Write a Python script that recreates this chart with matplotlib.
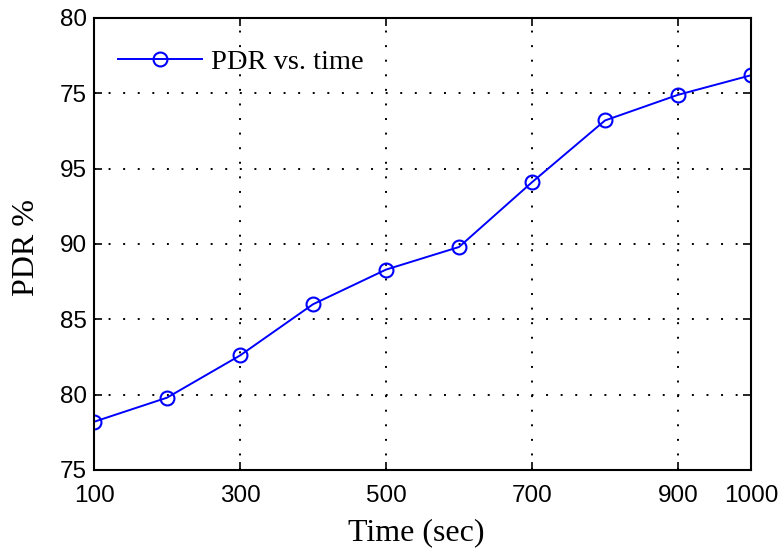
import matplotlib
matplotlib.use("Agg")
import matplotlib.pyplot as plt

time_sec = [100, 200, 300, 400, 500, 600, 700, 800, 900, 1000]
pdr_values = [78.2, 79.8, 82.6, 86.0, 88.3, 89.8, 94.1, 98.2, 99.9, 101.2]
x_ticks = [100, 300, 500, 700, 900, 1000]
x_tick_labels = ["100", "300", "500", "700", "900", "1000"]
y_ticks = [75, 80, 85, 90, 95, 100, 105]
y_tick_labels = ["75", "80", "85", "90", "95", "75", "80"]
series_label = "PDR vs. time"

W, H = 781, 550
L, R, T, B = 94, 751, 18, 470
fig = plt.figure(figsize=(W/100, H/100), dpi=100)
ax = fig.add_axes([L/W, 1-B/H, (R-L)/W, (B-T)/H])

ax.plot(time_sec, pdr_values, color="#0000ff", linewidth=1.4, marker="o",
        markersize=10, markerfacecolor="none", markeredgecolor="#0000ff",
        markeredgewidth=1.5, label=series_label)

ax.set_xlim(100, 1000)
ax.set_ylim(75, 105)
ax.set_xticks(x_ticks)
ax.set_xticklabels(x_tick_labels, family="Liberation Sans", fontsize=17.5)
ax.set_yticks(y_ticks)
ax.set_yticklabels(y_tick_labels, family="Liberation Sans", fontsize=17.5)
ax.tick_params(direction="in", length=6, width=1.2, top=True, right=True,
               colors="black")
ax.tick_params(axis="x", pad=11)
ax.tick_params(axis="y", pad=5)
ax.grid(True, color="black", linestyle=(0, (1, 6.5)), linewidth=1.4)

for s in ax.spines.values():
    s.set_linewidth(1.5)
    s.set_color("black")

xl = ax.set_xlabel("Time (sec)", family="Liberation Serif", fontsize=23)
xl.set_va("center")
ax.xaxis.set_label_coords((416.5-L)/(R-L), (B-533)/(B-T))
yl = ax.set_ylabel("PDR %", family="Liberation Serif", fontsize=23)
yl.set_va("center")
ax.yaxis.set_label_coords((27-L)/(R-L), (B-248)/(B-T))

leg = ax.legend(loc="center left", frameon=False,
                bbox_to_anchor=((118-L)/(R-L), (B-62)/(B-T)),
                prop={"family": "Liberation Serif", "size": 20.5},
                handlelength=2.95, borderaxespad=0, borderpad=0,
                handletextpad=0.3)

fig.savefig("out.png", dpi=100)
